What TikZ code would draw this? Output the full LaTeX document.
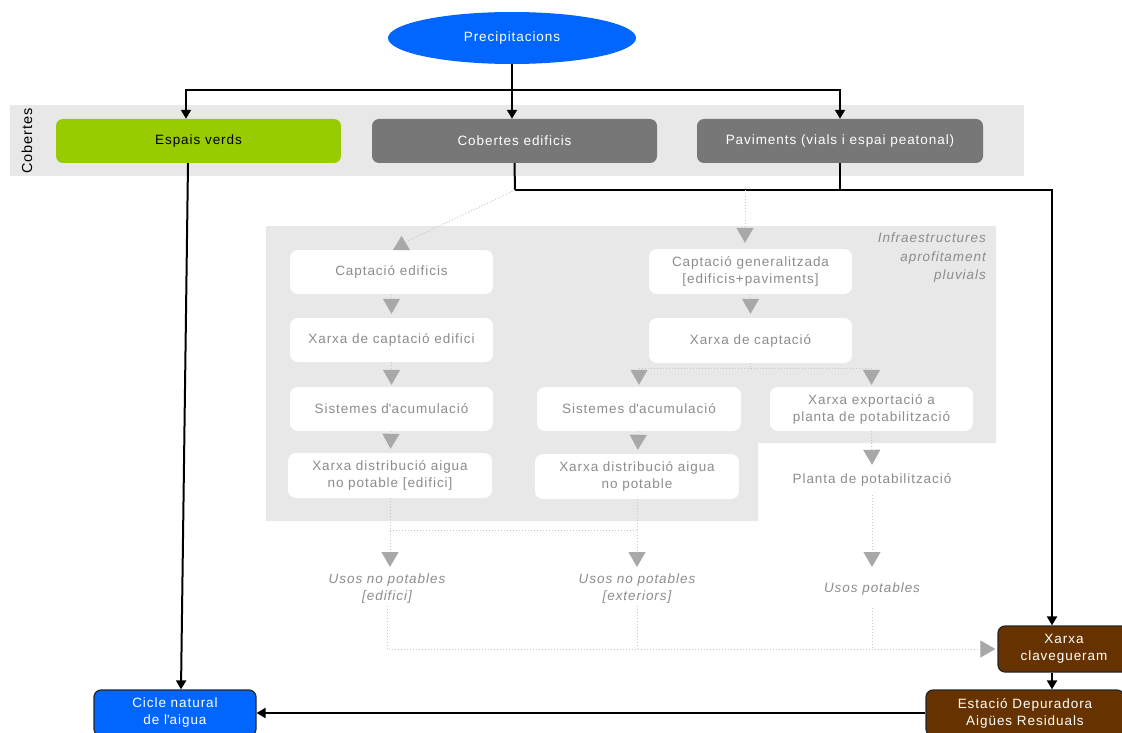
\documentclass[tikz,border=0pt]{standalone}
\usepackage{fontspec}
\setmainfont[LetterSpace=7]{Liberation Sans}
\usetikzlibrary{arrows.meta,shapes.geometric}

\definecolor{skyblue}{HTML}{0066FF}
\definecolor{leaf}{HTML}{99CC00}
\definecolor{slate}{HTML}{777777}
\definecolor{earth}{HTML}{663300}
\definecolor{panel}{HTML}{E8E8E8}
\definecolor{softtxt}{HTML}{8C8C8C}
\definecolor{dotc}{HTML}{C8C8C8}
\definecolor{tric}{HTML}{A8A8A8}

\begin{document}
\begin{tikzpicture}[x=1pt,y=-1pt,
  every node/.style={font=\fontsize{13.5}{17}\selectfont, align=center},
  topbox/.style={rectangle, rounded corners=7pt, minimum width=285pt, minimum height=44pt, inner sep=0pt},
  wbox/.style={rectangle, rounded corners=8pt, fill=white, text=softtxt, minimum width=203pt, minimum height=44pt, inner sep=0pt},
  endbox/.style={rectangle, rounded corners=7pt, draw=black!85, line width=1.2pt, text=white, inner sep=0pt},
  usos/.style={text=softtxt, font=\fontsize{13.5}{17}\selectfont\itshape, inner sep=2pt},
  arr/.style={draw=black, line width=2pt, -{Triangle[width=10pt,length=9pt]}},
  bline/.style={draw=black, line width=2pt},
  gdot/.style={draw=dotc, line width=1pt, dotted},
  garr/.style={gdot, -{Triangle[width=17pt,length=15pt,color=tric]}, shorten >=4pt}
]
\useasboundingbox (0,0) rectangle (1122,733);

% background bands
\fill[panel] (10,105) rectangle (1024,176);
\fill[panel] (266,226) -- (996,226) -- (996,443) -- (758,443) -- (758,521) -- (266,521) -- cycle;

% source and surfaces
\node[ellipse, fill=skyblue, text=white, minimum width=248pt, minimum height=52pt, inner sep=0pt] (prec) at (512,38) {Precipitacions};
\node[rotate=90, font=\fontsize{14.5}{17}\selectfont] (cobl) at (27,141) {Cobertes};
\node[topbox, fill=leaf, text=black] (ev) at (198.5,141) {Espais verds};
\node[topbox, fill=slate, text=white] (ce) at (514.5,141) {Cobertes edificis};
\node[topbox, fill=slate, text=white, minimum width=286pt] (pav) at (840,141) {Paviments (vials i espai peatonal)};

\node[usos, anchor=north east, inner sep=0pt, align=right, font=\fontsize{13.5}{18.5}\selectfont\itshape] (infra) at (986,233) {Infraestructures\\aprofitament\\pluvials};

% building collection chain
\node[wbox] (capE) at (391.5,272) {Captació edificis};
\node[wbox] (xcE) at (391.5,340) {Xarxa de captació edifici};
\node[wbox] (acE) at (391.5,409) {Sistemes d\textquotesingle acumulació};
\node[wbox, minimum width=204pt, minimum height=45pt] (diE) at (390,475.5) {Xarxa distribució aigua\\no potable [edifici]};

% general collection chain
\node[wbox, minimum height=45pt] (capG) at (750.5,271.5) {Captació generalitzada\\{}[edificis+paviments]};
\node[wbox, minimum height=45pt] (xcG) at (750.5,340.5) {Xarxa de captació};
\node[wbox, minimum width=204pt] (acM) at (639,409) {Sistemes d\textquotesingle acumulació};
\node[wbox, minimum width=204pt, minimum height=45pt] (diM) at (637,476.5) {Xarxa distribució aigua\\no potable};
\node[wbox] (exp) at (871.5,409) {Xarxa exportació a\\planta de potabilització};
\node[text=softtxt, minimum height=30pt, inner sep=0pt] (planta) at (872,480) {Planta de potabilització};

% uses
\node[usos] (usE) at (387,589) {Usos no potables\\{}[edifici]};
\node[usos] (usM) at (637,589) {Usos no potables\\{}[exteriors]};
\node[usos, minimum height=38pt] (usP) at (872,589) {Usos potables};

% sewer, treatment and natural cycle
\node[endbox, fill=earth, minimum width=132pt, minimum height=46pt] (clav) at (1064,649) {Xarxa\\clavegueram};
\node[endbox, fill=earth, minimum width=198pt, minimum height=46pt] (est) at (1025,713) {Estació Depuradora\\Aigües Residuals};
\node[endbox, fill=skyblue, minimum width=162pt, minimum height=46pt] (cic) at (175,713) {Cicle natural\\de l\textquotesingle aigua};

% rainfall distribution
\coordinate (top) at (512,90);
\draw[bline] (prec.south) -- (top);
\draw[arr] (top) -- (top |- ce.north);
\draw[arr] (top) -| ([xshift=-12.5pt]ev.north);
\draw[arr] (top) -| (pav.north);

% runoff from roofs and pavements to the sewer
\coordinate (run) at (515,190);
\draw[bline] (ce.south) -- (run);
\draw[bline] (pav.south) -- (pav.south |- run);
\draw[arr] (run) -| ([xshift=-12pt]clav.north);

% green areas straight to the natural cycle
\draw[arr] ([xshift=-10.5pt]ev.south) -- ([xshift=6pt]cic.north);

% treatment plant back to the natural cycle
\draw[arr] (est.west) -- (cic.east);
\draw[arr] ([xshift=-12pt]clav.south) -- ([xshift=-12pt]clav.south |- est.north);

% rainwater harvesting branches
\coordinate (rl) at (401.5,244);
\draw[gdot] (run) -- (rl);
\fill[tric] (393,250) -- (401.5,236) -- (410,250) -- cycle;
\coordinate (rr) at (745,190);
\draw[garr, shorten >=6pt] (rr) -- (rr |- capG.north);

\draw[garr] (capE) -- (xcE);
\draw[garr, shorten >=2pt] (xcE) -- (acE);
\draw[garr] (acE) -- (diE);
\draw[garr] (capG) -- (xcG);
\draw[gdot] (xcG.south) -- ++(0,5) coordinate (split);
\draw[garr, shorten >=2pt] (split) -| (acM.north);
\draw[garr, shorten >=2pt] (split) -| (exp.north);
\draw[garr] (acM) -- (diM);
\draw[garr, shorten >=0pt] (exp.south) -- (planta.north);

% distribution to the uses
\draw[garr, shorten >=0pt] (diE.south) -- (diE.south |- 0,567);
\draw[garr, shorten >=0pt] (diM.south) -- (diM.south |- 0,567);
\draw[gdot] (diE.south |- 0,530) -- (diM.south |- 0,530);
\draw[garr, shorten >=0pt] (planta.south) -- (planta.south |- 0,567);

% used water to the sewer
\draw[garr, shorten >=2pt] (usE.south) |- (clav.west);
\draw[gdot] (usM.south) -- (usM.south |- clav.west);
\draw[gdot] (usP.south) -- (usP.south |- clav.west);
\end{tikzpicture}
\end{document}
